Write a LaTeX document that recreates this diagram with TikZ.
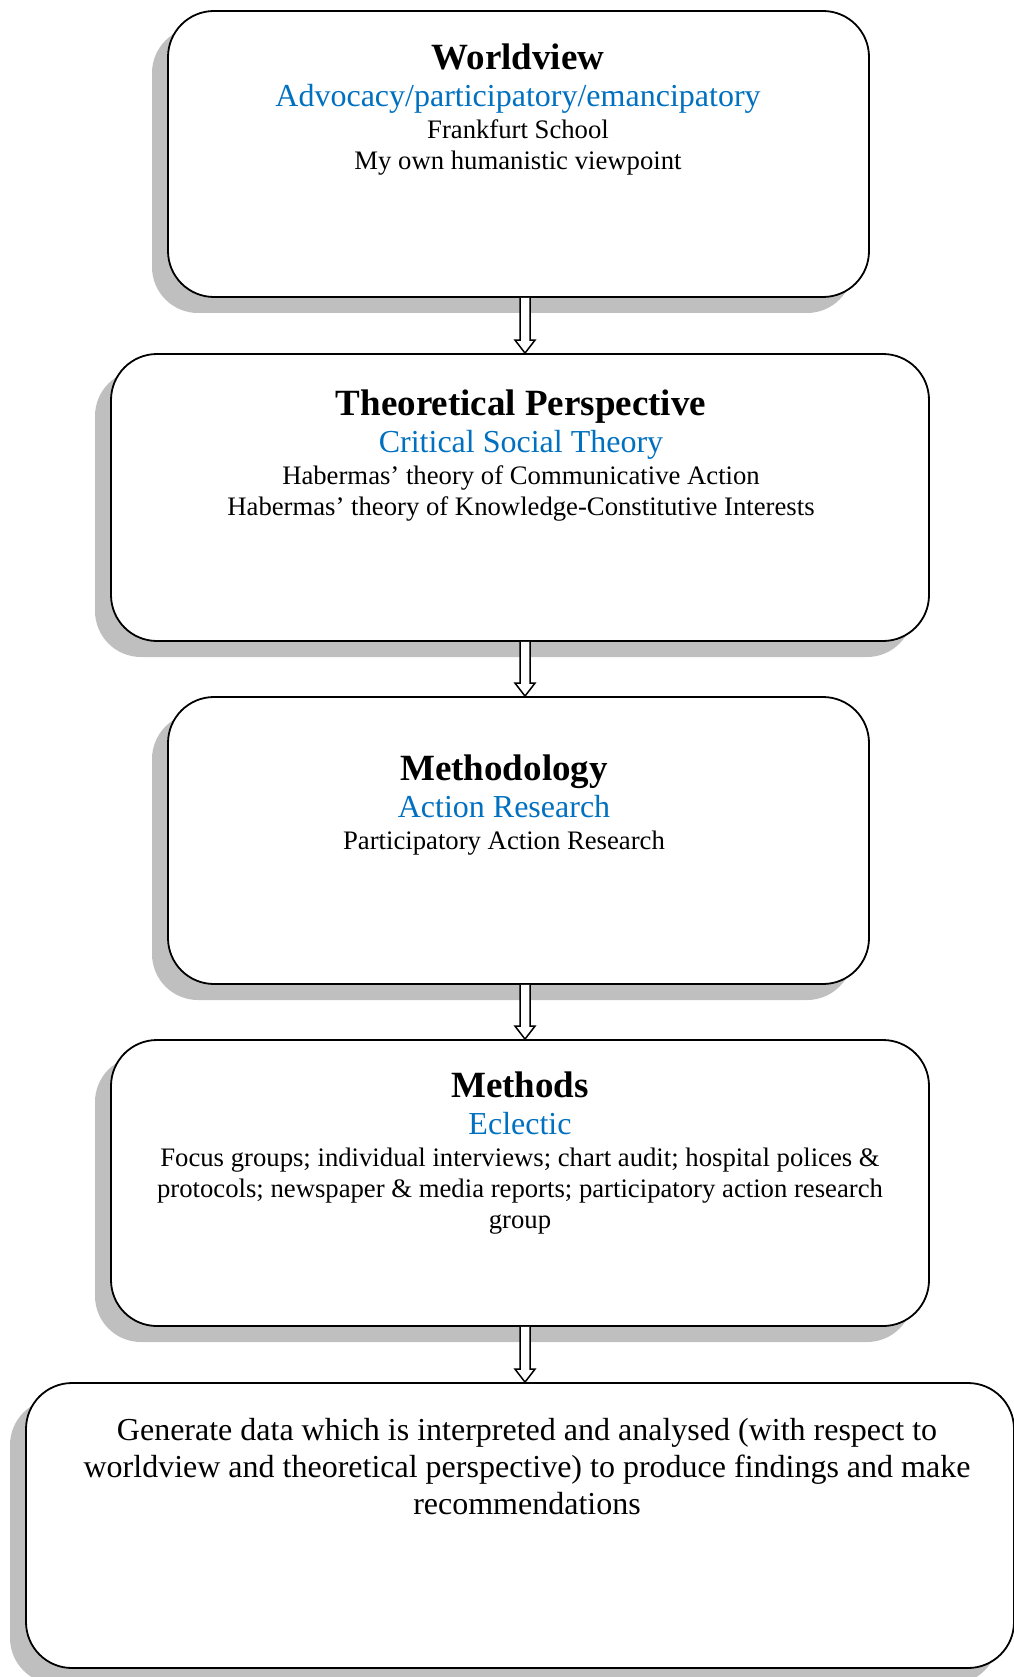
\documentclass[tikz,border=0pt]{standalone}
\usepackage{fontspec}
\setmainfont{Liberation Serif}
\usetikzlibrary{calc,shadows}

\definecolor{wordblue}{RGB}{0,112,192}
\definecolor{shadowgray}{RGB}{191,191,191}

\tikzset{
  stagebox/.style={draw=black, line width=1.8pt, fill=white,
    rounded corners=46pt, inner sep=0pt,
    drop shadow={shadow xshift=-16pt, shadow yshift=-16pt,
      fill=shadowgray, opacity=1}},
  headline/.style={anchor=base, inner sep=0pt,
    font=\fontsize{37}{42}\selectfont\bfseries},
  blueline/.style={anchor=base, inner sep=0pt, text=wordblue,
    font=\fontsize{32}{37}\selectfont},
  bodyline/.style={anchor=base, inner sep=0pt,
    font=\fontsize{26.7}{31}\selectfont},
  bigline/.style={anchor=base, inner sep=0pt,
    font=\fontsize{32}{37}\selectfont},
  hollowarrow/.style={draw=black, line width=1.5pt, fill=white,
    line join=miter},
}

\begin{document}
\begin{tikzpicture}[x=1pt, y=-1pt]
\useasboundingbox (0,0) rectangle (1013,1677);

% the five stages
\node[stagebox, minimum width=701pt, minimum height=286pt] (b1) at (518.5,154) {};
\node[stagebox, minimum width=818pt, minimum height=287pt] (b2) at (520,497.5) {};
\node[stagebox, minimum width=701pt, minimum height=287pt] (b3) at (518.5,840.5) {};
\node[stagebox, minimum width=818pt, minimum height=286pt] (b4) at (520,1183) {};
\node[stagebox, minimum width=988pt, minimum height=285pt] (b5) at (520,1525.5) {};

% stage texts
\node[headline] (w1) at (518,70)  {Worldview};
\node[blueline] (w2) at (518,107) {Advocacy/participatory/emancipatory};
\node[bodyline] (w3) at (518,139) {Frankfurt School};
\node[bodyline] (w4) at (518,170) {My own humanistic viewpoint};

\node[headline] (t1) at (521,415)   {Theoretical Perspective};
\node[blueline] (t2) at (521,452)   {Critical Social Theory};
\node[bodyline] (t3) at (521,484)   {Habermas’ theory of Communicative Action};
\node[bodyline] (t4) at (521,515.5) {Habermas’ theory of Knowledge-Constitutive Interests};

\node[headline] (m1) at (504,780) {Methodology};
\node[blueline] (m2) at (504,817) {Action Research};
\node[bodyline] (m3) at (504,849) {Participatory Action Research};

\node[headline] (d1) at (520,1097) {Methods};
\node[blueline] (d2) at (520,1134) {Eclectic};
\node[bodyline] (d3) at (520,1166) {Focus groups; individual interviews; chart audit; hospital polices \&};
\node[bodyline] (d4) at (520,1197) {protocols; newspaper \& media reports; participatory action research};
\node[bodyline] (d5) at (520,1228) {group};

\node[bigline] (g1) at (527,1440) {Generate data which is interpreted and analysed (with respect to};
\node[bigline] (g2) at (527,1477) {worldview and theoretical perspective) to produce findings and make};
\node[bigline] (g3) at (527,1514) {recommendations};

% hollow block arrows between the stages
\coordinate (ax) at (525,0);
\foreach \a/\b in {b1/b2, b2/b3, b3/b4, b4/b5}{
  \coordinate (s) at (ax |- \a.south);
  \coordinate (e) at (ax |- \b.north);
  \draw[hollowarrow] ($(s)+(-5,0)$) -- ($(e)+(-5,-13)$) -- ($(e)+(-10,-13)$)
    -- (e) -- ($(e)+(10,-13)$) -- ($(e)+(5,-13)$) -- ($(s)+(5,0)$);
}
\end{tikzpicture}
\end{document}
